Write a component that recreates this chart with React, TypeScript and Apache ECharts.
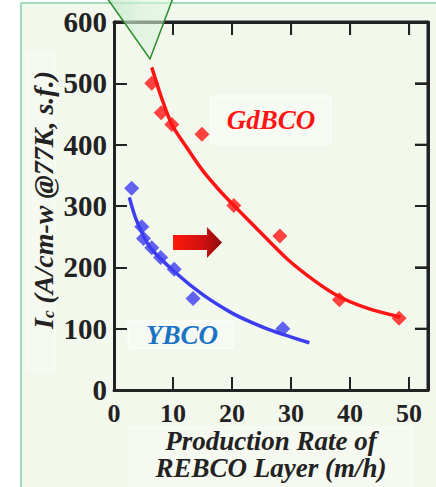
import React, { useEffect, useRef } from "react";
import * as echarts from "echarts";

// Measured critical current vs. production rate
const gdbcoRate = [6.4, 8.0, 9.8, 14.9, 20.3, 28.1, 38.2, 48.3];
const gdbcoIc = [500, 452, 433, 417, 301, 251, 147, 117];
const ybcoRate = [3.0, 4.7, 5.0, 6.4, 7.9, 10.2, 13.4, 28.6];
const ybcoIc = [329, 266, 247, 232, 216, 197, 149, 100];

// Trend curves through the measurements
const gdbcoFitRate = [6.4, 8, 9.8, 12, 15, 18, 20.3, 24, 29.3, 34, 38.2, 43, 48.5];
const gdbcoFitIc = [526, 478, 433, 400, 358, 324, 301, 265, 214, 178, 152, 133, 119];
const ybcoFitRate = [2.6, 3.8, 6.1, 10.6, 15.1, 19.7, 23.1, 26.4, 29.8, 33.1];
const ybcoFitIc = [314, 277, 233, 190, 155, 127, 111, 98, 87, 77];

const xTicks = [0, 10, 20, 30, 40, 50];
const yTicks = [0, 100, 200, 300, 400, 500, 600];
const X_MAX = 53.2;
const Y_MAX = 600;

const SERIF = "Liberation Serif, Times New Roman, serif";
const RED = "#ff1414";
const BLUE = "#3c3cf0";
const INK = "#222222";
const PANEL = "#f3f8ed";
const TICK_LEN = 13;

const pairs = (xs: number[], ys: number[]) => xs.map((x, i) => [x, ys[i]]);

const mirrorAxis = (position: string, max: number, interval: number) => ({
  type: "value",
  position,
  min: 0,
  max,
  interval,
  axisLine: { show: true, onZero: false, lineStyle: { color: INK, width: 3 } },
  axisTick: { show: true, inside: true, length: TICK_LEN, lineStyle: { color: INK, width: 2 } },
  splitLine: { show: false },
  axisLabel: { show: false },
});

const baseOption = () => ({
  animation: false,
  backgroundColor: PANEL,
  grid: { left: 114, right: 8, top: 22, bottom: 97, outerBoundsMode: "none" },
  xAxis: [
    {
      type: "value",
      position: "bottom",
      min: 0,
      max: X_MAX,
      interval: 10,
      axisLine: { show: true, onZero: false, lineStyle: { color: INK, width: 3 } },
      axisTick: { show: true, inside: true, length: TICK_LEN, lineStyle: { color: INK, width: 2 } },
      splitLine: { show: false },
      axisLabel: {
        margin: 10,
        fontFamily: SERIF,
        fontWeight: "bold",
        fontSize: 26,
        color: INK,
        formatter: (v: number) => (xTicks.includes(v) ? String(v) : ""),
      },
    },
    mirrorAxis("top", X_MAX, 10),
  ],
  yAxis: [
    {
      type: "value",
      position: "left",
      min: 0,
      max: Y_MAX,
      interval: 100,
      axisLine: { show: true, onZero: false, lineStyle: { color: INK, width: 3 } },
      axisTick: { show: true, inside: true, length: TICK_LEN, lineStyle: { color: INK, width: 2 } },
      splitLine: { show: false },
      axisLabel: {
        margin: 7,
        fontFamily: SERIF,
        fontWeight: "bold",
        fontSize: 29,
        color: INK,
        formatter: (v: number) => (yTicks.includes(v) ? String(v) : ""),
      },
    },
    mirrorAxis("right", Y_MAX, 100),
  ],
  series: [
    {
      type: "line",
      data: pairs(gdbcoFitRate, gdbcoFitIc),
      smooth: 0.3,
      showSymbol: false,
      lineStyle: { color: RED, width: 3.5 },
      z: 2,
    },
    {
      type: "line",
      data: pairs(ybcoFitRate, ybcoFitIc),
      smooth: 0.3,
      showSymbol: false,
      lineStyle: { color: BLUE, width: 3.5 },
      z: 2,
    },
    {
      type: "scatter",
      data: pairs(gdbcoRate, gdbcoIc),
      symbol: "diamond",
      symbolSize: [15, 15],
      itemStyle: { color: RED },
      z: 3,
    },
    {
      type: "scatter",
      data: pairs(ybcoRate, ybcoIc),
      symbol: "diamond",
      symbolSize: [15, 15],
      itemStyle: { color: BLUE },
      z: 3,
    },
  ],
});

// Top and right edges of the plot box, placed through the axis scales
function frameGraphics(chart: echarts.ECharts) {
  const toPx = (x: number, y: number) => {
    const p = chart.convertToPixel({ gridIndex: 0 }, [x, y]) as number[];
    return p && p.length === 2 && isFinite(p[0]) && isFinite(p[1]) ? p : null;
  };
  const tl = toPx(0, Y_MAX);
  const br = toPx(X_MAX, 0);
  if (!tl || !br) return [];
  const [left, top] = tl;
  const [right, bottom] = br;
  const stroke = (w: number) => ({ stroke: INK, lineWidth: w });
  const els: any[] = [
    { type: "line", z: 4, shape: { x1: left, y1: top, x2: right, y2: top }, style: stroke(3) },
    { type: "line", z: 4, shape: { x1: right, y1: top, x2: right, y2: bottom }, style: stroke(3) },
  ];
  xTicks.slice(1).forEach((v) => {
    const p = toPx(v, Y_MAX);
    if (p) els.push({ type: "line", z: 4, shape: { x1: p[0], y1: top, x2: p[0], y2: top + TICK_LEN }, style: stroke(2) });
  });
  yTicks.slice(1, -1).forEach((v) => {
    const p = toPx(X_MAX, v);
    if (p) els.push({ type: "line", z: 4, shape: { x1: right, y1: p[1], x2: right - TICK_LEN, y2: p[1] }, style: stroke(2) });
  });
  return els;
}

const decorations = () => [
  { type: "rect", shape: { x: 0, y: 0, width: 20, height: 487 }, style: { fill: "#ffffff" } },
  { type: "rect", shape: { x: 0, y: 0, width: 436, height: 2 }, style: { fill: "#ffffff" } },
  { type: "line", shape: { x1: 21, y1: 3, x2: 21, y2: 487 }, style: { stroke: "#9fdbb7", lineWidth: 2 } },
  { type: "line", shape: { x1: 21, y1: 3, x2: 436, y2: 3 }, style: { stroke: "#9fdbb7", lineWidth: 2 } },
  {
    type: "rect",
    shape: { x: 27, y: 53, width: 28, height: 317 },
    style: { fill: "#f5f9ef", stroke: "#fbfdf8", lineWidth: 1 },
  },
  {
    type: "rect",
    shape: { x: 128, y: 427, width: 284, height: 62 },
    style: { fill: "#f5f9ef", stroke: "#fbfdf8", lineWidth: 1 },
  },
  {
    type: "text",
    x: 43,
    y: 200,
    rotation: Math.PI / 2,
    style: {
      text: "{i|I}{s|c}{i| (A/cm-w @77K, s.f.)}",
      align: "center",
      verticalAlign: "middle",
      rich: {
        i: { fontFamily: SERIF, fontStyle: "italic", fontWeight: "bold", fontSize: 28, fill: INK },
        s: {
          fontFamily: SERIF,
          fontStyle: "italic",
          fontWeight: "bold",
          fontSize: 17,
          fill: INK,
          verticalAlign: "bottom",
          padding: [9, 0, 0, 0],
        },
      },
    },
  },
  {
    type: "text",
    x: 271,
    y: 454,
    style: {
      text: "Production Rate of\nREBCO Layer (m/h)",
      align: "center",
      verticalAlign: "middle",
      fontFamily: SERIF,
      fontStyle: "italic",
      fontWeight: "bold",
      fontSize: 27,
      lineHeight: 27,
      fill: INK,
    },
  },
  {
    type: "rect",
    z: 1,
    shape: { x: 211, y: 96, width: 120, height: 48 },
    style: { fill: "#f6faf2", stroke: "#ffffff", lineWidth: 1 },
  },
  {
    type: "text",
    z: 2,
    x: 271,
    y: 120,
    style: {
      text: "GdBCO",
      align: "center",
      verticalAlign: "middle",
      fontFamily: SERIF,
      fontStyle: "italic",
      fontWeight: "bold",
      fontSize: 27,
      fill: RED,
    },
  },
  {
    type: "rect",
    z: 1,
    shape: { x: 128, y: 321, width: 105, height: 27 },
    style: { fill: "#f6faf2", stroke: "#ffffff", lineWidth: 1 },
  },
  {
    type: "text",
    z: 2,
    x: 182,
    y: 335,
    style: {
      text: "YBCO",
      align: "center",
      verticalAlign: "middle",
      fontFamily: SERIF,
      fontStyle: "italic",
      fontWeight: "bold",
      fontSize: 27,
      fill: "#1a72c4",
    },
  },
  // shift arrow
  {
    type: "polygon",
    z: 5,
    shape: {
      points: [
        [173, 235],
        [207, 235],
        [207, 227],
        [222, 242.5],
        [207, 258],
        [207, 250],
        [173, 250],
      ],
    },
    style: {
      fill: new echarts.graphic.LinearGradient(0, 0, 1, 0, [
        { offset: 0, color: "#ff1a0a" },
        { offset: 0.6, color: "#d01010" },
        { offset: 1, color: "#8e0c0c" },
      ]),
    },
  },
  // pointer cone at the top
  {
    type: "polygon",
    z: 20,
    shape: { points: [[107, -2], [173, -2], [150, 59]] },
    style: {
      fill: new echarts.graphic.LinearGradient(0, 0, 1, 0, [
        { offset: 0, color: "rgba(190,230,195,0.75)" },
        { offset: 0.5, color: "rgba(215,242,218,0.6)" },
        { offset: 1, color: "rgba(225,248,228,0.55)" },
      ]),
      stroke: "#2a8c2a",
      lineWidth: 1.5,
    },
  },
];

export default function App() {
  const ref = useRef<HTMLDivElement>(null);

  useEffect(() => {
    if (!ref.current) return;
    const chart = echarts.init(ref.current, undefined, { renderer: "svg" });
    chart.setOption(baseOption());
    chart.setOption({ graphic: [...decorations(), ...frameGraphics(chart)] });
    return () => chart.dispose();
  }, []);

  return (
    <div
      ref={ref}
      style={{ position: "fixed", left: 0, top: 0, width: 436, height: 487 }}
    />
  );
}
